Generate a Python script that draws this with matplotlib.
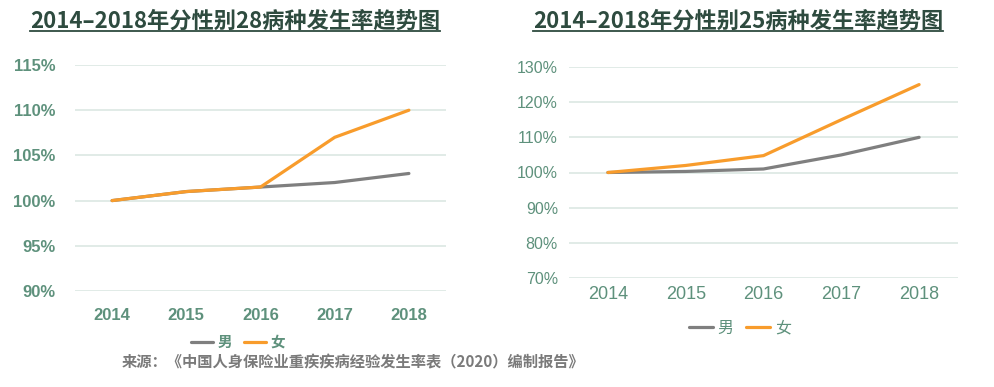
import matplotlib
matplotlib.use("Agg")
import matplotlib.pyplot as plt
from matplotlib.lines import Line2D

plt.rcParams['font.family'] = ['Noto Sans CJK SC', 'DejaVu Sans']

years = ['2014', '2015', '2016', '2017', '2018']
left_title = '2014–2018年分性别28病种发生率趋势图'
right_title = '2014–2018年分性别25病种发生率趋势图'
left_male = [100, 101, 101.5, 102, 103]
left_female = [100, 101, 101.5, 107, 110]
right_male = [100, 100.3, 101, 105, 110]
right_female = [100, 102, 104.8, 115, 125]
left_yticks = [90, 95, 100, 105, 110, 115]
right_yticks = [70, 80, 90, 100, 110, 120, 130]
series_names = ['男', '女']
source = '来源：《中国人身保险业重疾疾病经验发生率表（2020）编制报告》'

C_MALE = '#7f7f7f'
C_FEMALE = '#f89c2c'
C_TICK = '#5e917c'
C_TITLE = '#2e4b3f'
C_GRID = '#d8e5e0'

W, H = 995, 387
fig = plt.figure(figsize=(W/100, H/100), dpi=100)

def px_axes(l, r, t, b):
    return fig.add_axes([l/W, 1-b/H, (r-l)/W, (b-t)/H])

axL = px_axes(75, 446, 65, 291)
axR = px_axes(569, 958, 67, 278)

def style(ax, yticks, lab_font, lab_w, ysize, xsize):
    x = list(range(len(years)))
    ax.set_xlim(-0.5, len(years)-0.5)
    ax.set_ylim(yticks[0], yticks[-1])
    ax.set_yticks(yticks)
    ax.set_yticklabels([f'{v}%' for v in yticks], family=lab_font, weight=lab_w,
                       fontsize=ysize, color=C_TICK)
    ax.set_xticks(x)
    ax.set_xticklabels(years, family=lab_font, weight=lab_w, fontsize=xsize, color=C_TICK)
    for s in ax.spines.values():
        s.set_visible(False)
    ax.tick_params(length=0)
    ax.grid(axis='y', color=C_GRID, lw=1.1)
    ax.set_axisbelow(True)

xs = list(range(len(years)))
axL.plot(xs, left_male, color=C_MALE, lw=2.3, solid_capstyle='round', label=series_names[0])
axL.plot(xs, left_female, color=C_FEMALE, lw=2.3, solid_capstyle='round', label=series_names[1])
style(axL, left_yticks, 'Liberation Sans', 'bold', 12, 12)
axL.tick_params(axis='y', pad=14)
axL.tick_params(axis='x', pad=12)

axR.plot(xs, right_male, color=C_MALE, lw=2.3, solid_capstyle='round', label=series_names[0])
axR.plot(xs, right_female, color=C_FEMALE, lw=2.3, solid_capstyle='round', label=series_names[1])
style(axR, right_yticks, 'Liberation Sans', 'normal', 11.5, 13)
axR.tick_params(axis='y', pad=8)
axR.tick_params(axis='x', pad=6)

legL = fig.legend(handles=axL.lines, labels=series_names, loc='center',
                  bbox_to_anchor=(238/W, 1-342/H), ncol=2, frameon=False,
                  handlelength=1.5, handletextpad=0.3, columnspacing=0.8,
                  prop={'family': ['Noto Sans CJK SC'], 'weight': 'bold', 'size': 10.5})
for t in legL.get_texts():
    t.set_color(C_TICK)
legR = fig.legend(handles=axR.lines, labels=series_names, loc='center',
                  bbox_to_anchor=(740/W, 1-328/H), ncol=2, frameon=False,
                  handlelength=1.5, handletextpad=0.3, columnspacing=0.8,
                  prop={'family': ['Noto Sans CJK SC'], 'size': 11.5})
for t in legR.get_texts():
    t.set_color(C_TICK)

tL = fig.text(235/W, 1-21/H, left_title, ha='center', va='center', fontsize=16,
              weight='bold', color=C_TITLE)
tR = fig.text(738/W, 1-21/H, right_title, ha='center', va='center', fontsize=16,
              weight='bold', color=C_TITLE)
fig.text(353/W, 1-362/H, source, ha='center', va='center', fontsize=11,
         weight='bold', color='#7a7a7a')

fig.canvas.draw()
r = fig.canvas.get_renderer()
for t in (tL, tR):
    bb = t.get_window_extent(r)
    yline = 1 - 31/H
    fig.add_artist(Line2D([bb.x0/W, bb.x1/W], [yline, yline], color=C_TITLE, lw=1.3,
                          transform=fig.transFigure))

fig.savefig('out.png', dpi=100, facecolor='white')
